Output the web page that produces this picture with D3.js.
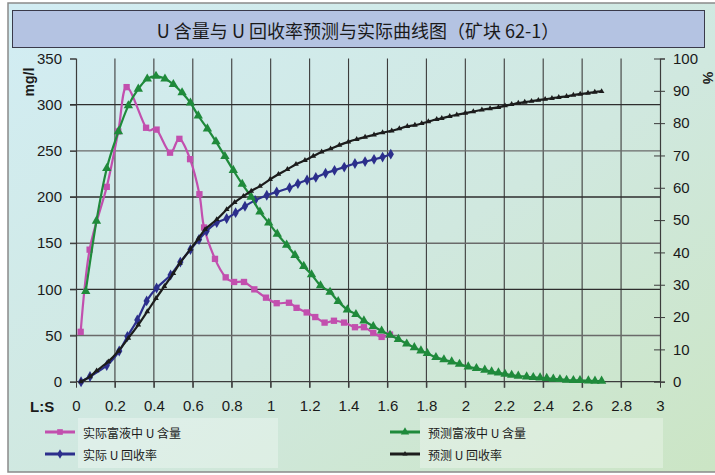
<!DOCTYPE html>
<html>
<head>
<meta charset="utf-8">
<script src="https://cdn.jsdelivr.net/npm/d3@7/dist/d3.min.js"></script>
<style>
  html, body { margin: 0; padding: 0; background: #ffffff; }
  svg { display: block; }
</style>
</head>
<body>
<svg id="chart" width="715" height="475"></svg>
<script>
// ---- data -------------------------------------------------------------
const chartTitle = "U 含量与 U 回收率预测与实际曲线图（矿块 62-1）";
const seriesNames = ["实际富液中 U 含量", "预测富液中 U 含量", "实际 U 回收率", "预测 U 回收率"];

const xTicks = [0, 0.2, 0.4, 0.6, 0.8, 1, 1.2, 1.4, 1.6, 1.8, 2, 2.2, 2.4, 2.6, 2.8, 3];
const yLeftTicks = [0, 50, 100, 150, 200, 250, 300, 350];
const yRightTicks = [0, 10, 20, 30, 40, 50, 60, 70, 80, 90, 100];

// 实际富液中 U 含量 (mg/l)
const actualLS = [0.024, 0.07, 0.158, 0.217, 0.26, 0.36, 0.414, 0.483, 0.531, 0.586, 0.634, 0.658,
  0.714, 0.769, 0.812, 0.863, 0.916, 0.976, 1.031, 1.094, 1.133, 1.185, 1.229, 1.277, 1.325,
  1.377, 1.433, 1.479, 1.527, 1.57, 1.613];
const actualU = [54, 143, 211, 271, 319, 275, 273, 248, 263, 241, 203, 167,
  133, 113, 108, 108, 100, 91, 85, 85.5, 80, 75, 70, 64, 66,
  64, 59, 59, 53, 48.5, 51];

// 实际 U 回收率 (%)
const actualRateLS = [0.026, 0.072, 0.158, 0.222, 0.264, 0.315, 0.363, 0.414, 0.486, 0.536, 0.588,
  0.632, 0.671, 0.723, 0.774, 0.82, 0.868, 0.92, 0.98, 1.031, 1.097, 1.14, 1.187, 1.232, 1.282,
  1.328, 1.378, 1.433, 1.485, 1.531, 1.575, 1.617];
const actualRate = [0, 1.6, 5, 9.5, 14, 19.1, 25, 29, 33, 37, 40.9,
  44, 46.6, 49.2, 50.5, 52.3, 54.3, 56.1, 57.7, 58.7, 60, 61.3, 62.4, 63.2, 64.5,
  65.4, 66.4, 67.5, 68.1, 68.8, 69.5, 70.4];

// 预测富液中 U 含量 (mg/l)
const predLS = [0.05, 0.105, 0.158, 0.218, 0.269, 0.32, 0.366, 0.411, 0.457, 0.5, 0.545, 0.588,
  0.628, 0.675, 0.719, 0.765, 0.808, 0.854, 0.9, 0.945, 0.99, 1.034, 1.082, 1.125, 1.17, 1.21,
  1.256, 1.305, 1.347, 1.394, 1.438, 1.479, 1.527, 1.57, 1.613, 1.656, 1.699, 1.738, 1.772,
  1.805, 1.849, 1.89, 1.93, 1.97, 2.015, 2.057, 2.1, 2.135, 2.17, 2.204, 2.238, 2.272, 2.315,
  2.349, 2.384, 2.418, 2.452, 2.486, 2.52, 2.555, 2.589, 2.632, 2.666, 2.7];
const predU = [98, 174, 231, 271, 299, 317, 328, 331, 328, 322, 313, 302,
  288, 274, 260, 244, 229, 214, 200, 184, 172, 160, 148, 137, 125, 116,
  104, 97, 87, 78, 73, 66, 60, 55, 50.5, 46, 41, 37, 33.5,
  30.7, 26.4, 24, 21.6, 19, 16.2, 14.5, 12.7, 10.8, 9.7, 8.3, 7.2, 6.2, 5.4,
  4.7, 4.3, 3.7, 2.9, 2.6, 1.8, 1.5, 1.5, 1.1, 0.8, 0.8];

// 预测 U 回收率 (%)
const predRateLS = [0.025, 0.072, 0.106, 0.166, 0.218, 0.269, 0.32, 0.366, 0.411, 0.454, 0.5,
  0.534, 0.588, 0.628, 0.663, 0.723, 0.774, 0.815, 0.86, 0.9, 0.945, 0.997, 1.04, 1.086, 1.13,
  1.176, 1.219, 1.262, 1.308, 1.353, 1.399, 1.442, 1.485, 1.531, 1.575, 1.622, 1.661, 1.702,
  1.741, 1.776, 1.81, 1.853, 1.879, 1.92, 1.956, 2.0, 2.041, 2.085, 2.127, 2.17, 2.204, 2.238,
  2.272, 2.305, 2.34, 2.375, 2.41, 2.445, 2.48, 2.52, 2.555, 2.59, 2.63, 2.665, 2.7];
const predRate = [0, 1.6, 3.4, 6.2, 9.5, 13.5, 17.6, 21.7, 25.8, 29.5, 33.5,
  36.7, 41, 44.2, 47.1, 50.2, 53.3, 55.5, 57.4, 59, 60.5, 62.6, 64.2, 65.7, 67.3,
  68.5, 69.8, 71.1, 72.1, 73.2, 74.2, 75, 75.7, 76.4, 77.1, 77.6, 78.3, 79,
  79.4, 79.9, 80.5, 81.2, 81.5, 82.1, 82.6, 83.1, 83.6, 84.1, 84.5, 84.9, 85.4, 85.8,
  86.2, 86.5, 86.8, 87.1, 87.4, 87.7, 88.0, 88.3, 88.7, 89.0, 89.3, 89.6, 89.8];

// ---- layout -----------------------------------------------------------
const W = 715, H = 475;
const plot = { left: 76, right: 660, top: 58.5, bottom: 381.7 };
const colors = { actualU: "#c24fae", predU: "#1f8a3b", actualRate: "#2c2f8c", predRate: "#1c1c1c" };
const axisFont = "'Liberation Sans', Arial, sans-serif";
const cjkFont = "'Noto Sans CJK SC', 'Noto Sans', sans-serif";

const svg = d3.select("#chart");

// background gradient
const defs = svg.append("defs");
const bg = defs.append("linearGradient").attr("id", "bgGrad")
  .attr("x1", "0").attr("y1", "0").attr("x2", "1").attr("y2", "1");
bg.append("stop").attr("offset", "0%").attr("stop-color", "#d2edf4");
bg.append("stop").attr("offset", "55%").attr("stop-color", "#d0e8df");
bg.append("stop").attr("offset", "100%").attr("stop-color", "#cbe5c4");

svg.append("rect").attr("x", 8).attr("y", 3).attr("width", W).attr("height", 469)
  .attr("fill", "url(#bgGrad)").attr("stroke", "#8a8a8a").attr("stroke-width", 1.5);

// title box
svg.append("rect").attr("x", 12.5).attr("y", 10.5).attr("width", 692).attr("height", 37)
  .attr("fill", "#b4c3e2").attr("stroke", "#3a3a4a").attr("stroke-width", 1);
svg.append("text").attr("x", 358).attr("y", 30).attr("text-anchor", "middle")
  .attr("dominant-baseline", "central")
  .attr("font-family", cjkFont).attr("font-size", 18).attr("fill", "#1a1a1a")
  .text(chartTitle);

// scales
const x = d3.scaleLinear().domain([0, 3]).range([plot.left, plot.right]);
const yL = d3.scaleLinear().domain([0, 350]).range([plot.bottom, plot.top]);
const yR = d3.scaleLinear().domain([0, 100]).range([plot.bottom, plot.top]);

// grid
const grid = svg.append("g").attr("stroke", "#3c3c3c").attr("stroke-width", 1.1);
grid.selectAll(".vg").data(xTicks.filter(t => t > 0 && t < 3)).join("line")
  .attr("x1", d => x(d)).attr("x2", d => x(d))
  .attr("y1", plot.top).attr("y2", plot.bottom + 6);
grid.selectAll(".hg").data(yLeftTicks.filter(t => t > 0 && t < 350)).join("line")
  .attr("x1", plot.left - 6).attr("x2", plot.right)
  .attr("y1", d => yL(d)).attr("y2", d => yL(d))
  .attr("stroke", (d, i) => i % 2 ? "#2e2e2e" : "#6a6a6a").attr("stroke-width", 1.4);

// axes
function styleAxis(g) {
  g.selectAll("text").attr("font-family", axisFont).attr("font-size", 15).attr("fill", "#1a1a1a");
  g.selectAll("line").attr("stroke", "#3c3c3c");
  g.select(".domain").attr("stroke", "#3c3c3c").attr("stroke-width", 1.2);
}

svg.append("g").attr("transform", `translate(0,${plot.bottom})`)
  .call(d3.axisBottom(x).tickValues(xTicks).tickSize(6).tickPadding(13)
    .tickFormat(d => d3.format("~g")(d)))
  .call(g => g.select(".domain").attr("d", `M${plot.left},0H${plot.right}`))
  .call(styleAxis);

svg.append("g").attr("transform", `translate(${plot.left},0)`)
  .call(d3.axisLeft(yL).tickValues(yLeftTicks).tickSize(6).tickPadding(8))
  .call(styleAxis);

svg.append("g").attr("transform", `translate(${plot.right},0)`)
  .call(d3.axisRight(yR).tickValues(yRightTicks).tickSize(5).tickPadding(8))
  .call(g => g.selectAll(".tick line").attr("x1", -6))
  .call(styleAxis);

// axis titles
svg.append("text").attr("transform", "translate(34,82) rotate(-90)")
  .attr("text-anchor", "middle").attr("font-family", axisFont).attr("font-weight", "bold")
  .attr("font-size", 14).attr("fill", "#1a1a1a").text("mg/l");
svg.append("text").attr("transform", "translate(703,78) rotate(90)")
  .attr("text-anchor", "middle").attr("font-family", axisFont).attr("font-weight", "bold")
  .attr("font-size", 14).attr("fill", "#1a1a1a").text("%");
svg.append("text").attr("x", 30).attr("y", 412)
  .attr("font-family", axisFont).attr("font-weight", "bold")
  .attr("font-size", 15).attr("fill", "#1a1a1a").text("L:S");

// series (smoothed lines with markers)
const curve = d3.curveCatmullRom.alpha(0);
const series = [
  { key: "actualU", name: seriesNames[0], xs: actualLS, ys: actualU, y: yL, sym: d3.symbolSquare, size: 40 },
  { key: "actualRate", name: seriesNames[2], xs: actualRateLS, ys: actualRate, y: yR, sym: d3.symbolDiamond, size: 34 },
  { key: "predU", name: seriesNames[1], xs: predLS, ys: predU, y: yL, sym: d3.symbolTriangle, size: 38 },
  { key: "predRate", name: seriesNames[3], xs: predRateLS, ys: predRate, y: yR, sym: d3.symbolTriangle, size: 14 }
];

series.forEach(s => {
  const pts = s.xs.map((v, i) => [v, s.ys[i]]);
  const g = svg.append("g");
  g.append("path").datum(pts)
    .attr("fill", "none").attr("stroke", colors[s.key]).attr("stroke-width", 2.2)
    .attr("d", d3.line().x(d => x(d[0])).y(d => s.y(d[1])).curve(curve));
  g.selectAll("path.m").data(pts).join("path").attr("class", "m")
    .attr("transform", d => `translate(${x(d[0])},${s.y(d[1])})`)
    .attr("d", d3.symbol().type(s.sym).size(s.size))
    .attr("fill", colors[s.key]);
});

// legend
const legendBoxes = [
  { x: 78, y: 418, w: 200, h: 50 },
  { x: 420, y: 418, w: 243, h: 50 }
];
svg.selectAll("rect.lb").data(legendBoxes).join("rect").attr("class", "lb")
  .attr("x", d => d.x).attr("y", d => d.y).attr("width", d => d.w).attr("height", d => d.h)
  .attr("fill", "#ffffff").attr("fill-opacity", 0.3);

const legendItems = [
  { s: series[0], lx: 45, ly: 432 },
  { s: series[2], lx: 390, ly: 432 },
  { s: series[1], lx: 45, ly: 454 },
  { s: series[3], lx: 390, ly: 454 }
];
legendItems.forEach(it => {
  const g = svg.append("g");
  g.append("line").attr("x1", it.lx).attr("x2", it.lx + 30).attr("y1", it.ly).attr("y2", it.ly)
    .attr("stroke", colors[it.s.key]).attr("stroke-width", 3);
  g.append("path").attr("transform", `translate(${it.lx + 15},${it.ly})`)
    .attr("d", d3.symbol().type(it.s.sym).size(it.s.size * 0.8)).attr("fill", colors[it.s.key]);
  g.append("text").attr("x", it.lx + 38).attr("y", it.ly).attr("dominant-baseline", "central")
    .attr("font-family", cjkFont).attr("font-size", 12).attr("fill", "#1a1a1a")
    .text(it.s.name);
});
</script>
</body>
</html>
